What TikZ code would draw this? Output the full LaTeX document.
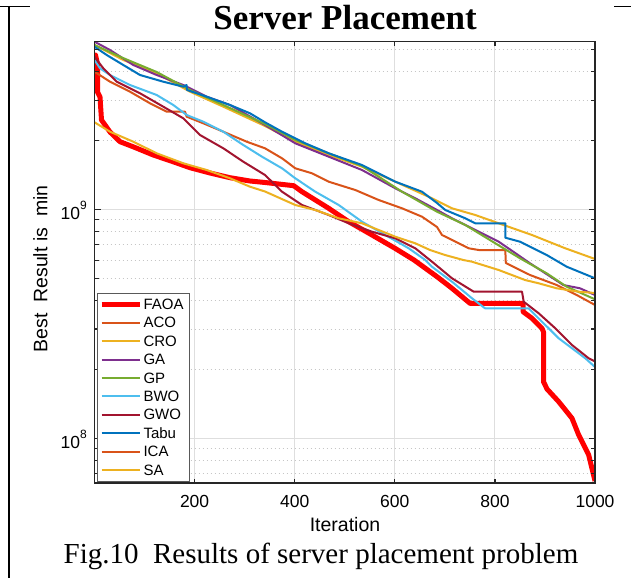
\documentclass[tikz,border=0pt]{standalone}
\usepackage{fontspec}
\setmainfont{Liberation Serif}
\newfontfamily\axisfont{Liberation Sans}
\definecolor{cFAOA}{rgb}{1,0,0}
\definecolor{cACO}{rgb}{0.85,0.325,0.098}
\definecolor{cCRO}{rgb}{0.929,0.694,0.125}
\definecolor{cGA}{rgb}{0.494,0.184,0.556}
\definecolor{cGP}{rgb}{0.466,0.674,0.188}
\definecolor{cBWO}{rgb}{0.301,0.745,0.933}
\definecolor{cGWO}{rgb}{0.635,0.078,0.184}
\definecolor{cTabu}{rgb}{0,0.447,0.741}
\definecolor{gridgray}{gray}{0.87}
\definecolor{axisgray}{gray}{0.15}
\tikzset{
  curve/.style={line width=2pt, line join=round, line cap=round},
  bestcurve/.style={line width=5pt, line join=round, color=cFAOA},
  majorgrid/.style={draw=gridgray, line width=1pt},
  minorgrid/.style={draw=gray!45, line width=0.8pt, dash pattern=on 1pt off 3pt},
  tickmark/.style={draw=axisgray, line width=1.2pt},
  ticklabel/.style={font=\axisfont\fontsize{17.5}{17.5}\selectfont, text=black},
  axislabel/.style={font=\axisfont\fontsize{19.5}{19.5}\selectfont, text=black},
  legendtext/.style={font=\axisfont\fontsize{15}{15}\selectfont, anchor=west, inner sep=0pt},
  legendline/.style={line width=2pt},
}
\newcommand{\decade}[1]{10\raisebox{0.55em}{\fontsize{12}{12}\selectfont #1}}
\begin{document}
\begin{tikzpicture}[x=1pt,y=-1pt]
\useasboundingbox (0,0) rectangle (631,578);
\fill[white] (0,0) rectangle (631,578);

% page frame lines
\draw[line width=1.6pt] (0,6.5) -- (30,6.5);
\draw[line width=1.6pt] (614,6.5) -- (631,6.5);
\draw[line width=2pt] (8.5,6.5) -- (8.5,578);

% title and caption
\node[font=\fontsize{35}{35}\selectfont\bfseries, anchor=base, inner sep=0pt] (title) at (345,30) {Server Placement};
\node[font=\fontsize{29}{29}\selectfont, anchor=base, inner sep=0pt] (caption) at (321,563) {Fig.10\ \ Results of server placement problem};

% grid
\foreach \gx in {194.6,294.7,394.8,494.9} \draw[majorgrid] (\gx,41.5) -- (\gx,483);
\foreach \gy in {209.3,438.3} \draw[majorgrid] (94.5,\gy) -- (595,\gy);
\foreach \gy in {49.2,71.4,100.1,140.4,219.8,231.5,244.8,260.1,278.2,300.4,329.0,369.4,448.8,460.5,473.8}
  \draw[minorgrid] (94.5,\gy) -- (595,\gy);

% convergence curves
\begin{scope}
\clip (94.5,41.5) rectangle (595,483);
\draw[bestcurve] plot coordinates {(94.5,64) (95.5,55) (97.5,64) (97.5,92) (100,97) (101.5,120) (110,132) (120,141.7) (133,146.7) (153.3,155) (173,161.7) (190,167.7) (210,173) (230,177.7) (250,181) (265,182.5) (293.7,185.7) (302,191.7) (328.7,208.3) (348.7,221.7) (372,235) (395,248.3) (414,260) (437,276.7) (452,288.3) (470,303.3) (523,303.3) (523,311.7) (532,318.3) (542,328.3) (543.5,332) (543.5,381.7) (547,389) (558.7,401.7) (572,418.3) (578.7,435) (588.7,455) (595,481)};
\draw[curve, cACO] plot coordinates {(94.5,71.7) (110,81.7) (130,91.7) (150,103.3) (166.7,111.7) (185,111.7) (186.7,116.7) (203.3,123.3) (223.3,131.7) (246.7,141.7) (265,148.3) (282,158.3) (295.3,168.3) (312,173.3) (328.7,181.7) (355.3,190) (378.7,200) (402,208.3) (422,216.7) (437,227) (442,235) (458.7,243.3) (468.7,248.3) (478.7,250) (505.3,250) (505.8,263) (530,275) (556.7,285) (576.7,295) (595,305)};
\draw[curve, cCRO] plot coordinates {(94.5,45) (123.3,60) (156.7,73.3) (190,91.7) (223.3,106.7) (265,126) (295.3,141.7) (328.7,155) (362,166.7) (395.3,181.7) (432,198.3) (452,208.3) (475.3,215) (498.7,223.3) (532,235) (565.3,248.3) (595,259)};
\draw[curve, cGA] plot coordinates {(94.5,41.7) (110,50) (133.3,65) (156.7,75) (183.3,85) (206.7,96.7) (230,105) (265,125) (295.3,143.3) (328.7,156.7) (362,170) (395.3,188.3) (415.3,198.3) (437,210) (452,218.3) (472,228.3) (498.7,241.7) (513.3,251.7) (530,263.3) (563.3,285) (580,288.3) (595,295)};
\draw[curve, cGP] plot coordinates {(94.5,45) (123,58) (156.7,72) (190,90) (223.3,105) (265,124) (295.3,140) (328.7,153.3) (362,166) (402,191.7) (437,211.7) (465.3,225) (495.3,243.3) (520,258.3) (546.7,273.3) (566.7,286.7) (595,299.3)};
\draw[curve, cBWO] plot coordinates {(94.5,60) (100,68.3) (110,75) (130,85) (156.7,95) (173.3,105) (186.7,115) (203.3,121.7) (223.3,131.7) (243.3,145) (262,156.7) (282,168.3) (295.3,178.3) (315.3,191.7) (338.7,205) (362,221.7) (385.3,235) (408.7,248.3) (425.3,260) (432,266.7) (452,281.7) (472,298.3) (485,308.3) (528.5,308.3) (542,321.7) (558.7,338.3) (572,348.3) (585.3,358.3) (595,367)};
\draw[curve, cGWO] plot coordinates {(94.5,56.7) (103.3,68.3) (116.7,81.7) (140,93.3) (163.3,106.7) (183.3,118.3) (200,135) (223.3,148.3) (243.3,161.7) (265,175) (282,191.7) (302,205) (328.7,215) (348.7,223.3) (372,231.7) (395.3,238.3) (415.3,248.3) (432,261.7) (452,278.3) (473.7,291.7) (522,291.7) (523.7,301.7) (538.7,313.3) (555.3,328.3) (572,345) (588.7,358.3) (595,361.5)};
\draw[curve, cTabu] plot coordinates {(94.5,46.7) (106.7,55) (123.3,65) (140,75) (163.3,81.7) (183.3,86.7) (186.5,85) (187,90) (206.7,96.7) (230,105) (250,113.3) (265,122.3) (282,131.7) (305.3,143.3) (328.7,153.3) (362,165) (395.3,181.7) (422,191.7) (437,203) (445.3,210) (465.3,218.3) (475.3,223.3) (505.3,223.3) (505.3,237.7) (520,241.7) (546.7,255) (566.7,266.7) (595,278.3)};
\draw[curve, cCRO] plot coordinates {(94.5,122.3) (110,131.7) (133.3,141.7) (156.7,153.3) (183.3,163.3) (206.7,170) (230,178.3) (250,186.7) (265,191.5) (295.3,205) (315.3,210) (338.7,218.3) (362,223.3) (395.3,236.7) (415.3,243.3) (430,250) (445,255) (463.3,260) (472,261.7) (498.7,270) (525,280) (538.7,283.3) (556.7,288.3) (578.7,291.7) (595,293)};
\end{scope}

% axes box and ticks
\draw[axisgray, line width=1.3pt] (94.5,41.5) rectangle (595,483);
\foreach \gx in {194.6,294.7,394.8,494.9} {
  \draw[tickmark] (\gx,483) -- (\gx,478.5);
  \draw[tickmark] (\gx,41.5) -- (\gx,46);
}
\foreach \gy in {209.3,438.3} {
  \draw[tickmark] (94.5,\gy) -- (101,\gy);
  \draw[tickmark] (595,\gy) -- (588.5,\gy);
}
\foreach \gy in {49.2,71.4,100.1,140.4,219.8,231.5,244.8,260.1,278.2,300.4,329.0,369.4,448.8,460.5,473.8} {
  \draw[tickmark] (94.5,\gy) -- (98.5,\gy);
  \draw[tickmark] (595,\gy) -- (591,\gy);
}

% tick labels
\node[ticklabel] (x200) at (194.6,501) {200};
\node[ticklabel] (x400) at (294.7,501) {400};
\node[ticklabel] (x600) at (394.8,501) {600};
\node[ticklabel] (x800) at (494.9,501) {800};
\node[ticklabel] (x1000) at (595,501) {1000};
\node[ticklabel, anchor=base east, inner sep=0pt] (y9) at (87,219.5) {\decade{9}};
\node[ticklabel, anchor=base east, inner sep=0pt] (y8) at (87,448.5) {\decade{8}};

% axis labels
\node[axislabel] (xlabel) at (345,525) {Iteration};
\node[axislabel, rotate=90] (ylabel) at (40.5,269) {Best\ \ Result is\ \ min};

% legend
\draw[draw=gray!70!black, fill=white, line width=1pt] (97.3,293.3) rectangle (189.3,481.7);
\draw[line width=4.5pt, cFAOA] (101.7,304.3) -- (140,304.3);
\node[legendtext] (lFAOA) at (143.3,304.3) {FAOA};
\draw[legendline, cACO] (101.7,322.7) -- (140,322.7);
\node[legendtext] (lACO) at (143.3,322.7) {ACO};
\draw[legendline, cCRO] (101.7,341.1) -- (140,341.1);
\node[legendtext] (lCRO) at (143.3,341.1) {CRO};
\draw[legendline, cGA] (101.7,359.5) -- (140,359.5);
\node[legendtext] (lGA) at (143.3,359.5) {GA};
\draw[legendline, cGP] (101.7,377.9) -- (140,377.9);
\node[legendtext] (lGP) at (143.3,377.9) {GP};
\draw[legendline, cBWO] (101.7,396.3) -- (140,396.3);
\node[legendtext] (lBWO) at (143.3,396.3) {BWO};
\draw[legendline, cGWO] (101.7,414.7) -- (140,414.7);
\node[legendtext] (lGWO) at (143.3,414.7) {GWO};
\draw[legendline, cTabu] (101.7,433.1) -- (140,433.1);
\node[legendtext] (lTabu) at (143.3,433.1) {Tabu};
\draw[legendline, cACO] (101.7,451.5) -- (140,451.5);
\node[legendtext] (lICA) at (143.3,451.5) {ICA};
\draw[legendline, cCRO] (101.7,469.9) -- (140,469.9);
\node[legendtext] (lSA) at (143.3,469.9) {SA};
\end{tikzpicture}
\end{document}
